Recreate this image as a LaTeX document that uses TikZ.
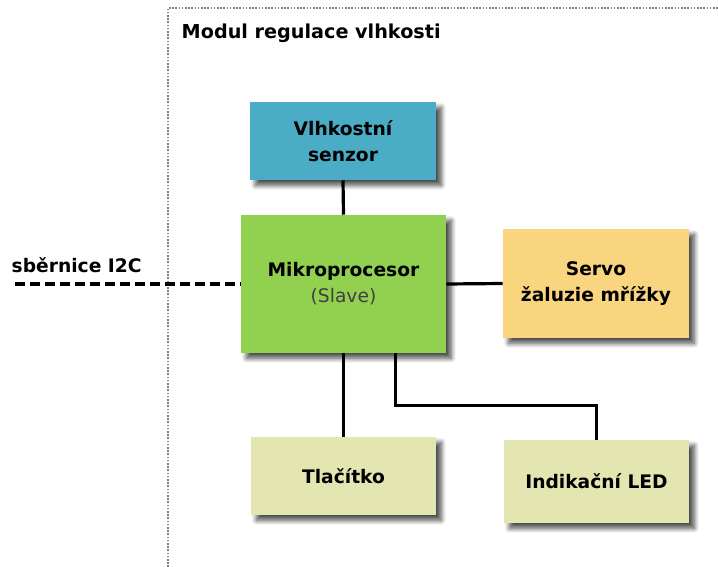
\documentclass[tikz,border=0pt]{standalone}
\usepackage{fontspec}
\setmainfont{DejaVu Sans}
\usetikzlibrary{shadows.blur}

\definecolor{senzormodra}{HTML}{4BACC6}
\definecolor{mcuzelena}{HTML}{92D050}
\definecolor{servooranz}{HTML}{FAD57F}
\definecolor{svetlezluta}{HTML}{E4E6B1}
\definecolor{textseda}{HTML}{404040}

\tikzset{
  blok/.style={rectangle, inner sep=0pt, align=center,
    font=\bfseries\fontsize{14}{19.5}\selectfont,
    blur shadow={shadow xshift=4pt, shadow yshift=-4pt, shadow blur steps=8, shadow blur radius=3.5pt, shadow opacity=70}},
  spoj/.style={line width=2.4pt},
  sbernice/.style={line width=3.2pt, dash pattern=on 7.5pt off 3.75pt},
  ramec/.style={gray, line width=0.8pt, dash pattern=on 1.2pt off 1.2pt},
}

\begin{document}
\begin{tikzpicture}[x=0.75pt, y=-0.75pt]
\useasboundingbox (0,0) rectangle (718,567);

% Ramec modulu
\draw[ramec] (168,567) -- (168,8) -- (718,8);
\node[anchor=west, font=\bfseries\fontsize{14.4}{17}\selectfont] (nazev) at (177,33) {Modul regulace vlhkosti};

% Bloky
\node[blok, fill=senzormodra, minimum width=139.5pt, minimum height=58.5pt] (senzor) at (343,141) {Vlhkostní\\senzor};
\node[blok, fill=mcuzelena, minimum width=153.75pt, minimum height=103.5pt] (mcu) at (343.5,284) {Mikroprocesor\\{\mdseries\color{textseda}(Slave)}};
\node[blok, fill=servooranz, minimum width=139.5pt, minimum height=81.75pt] (servo) at (596,283.5) {Servo\\žaluzie mřížky};
\node[blok, fill=svetlezluta, minimum width=138.75pt, minimum height=58.5pt] (tlacitko) at (343.5,476) {Tlačítko};
\node[blok, fill=svetlezluta, minimum width=138.75pt, minimum height=62.25pt] (led) at (596.5,481.5) {Indikační LED};

% Spoje
\draw[spoj] (senzor.south) -- (mcu.north);
\draw[spoj] (mcu.east) -- (servo.west);
\draw[spoj] (mcu.south) -- (tlacitko.north);
\draw[spoj] ([xshift=39pt]mcu.south) -- ++(0,52) -| (led.north);

% Sbernice
\coordinate (buskonec) at (15,284);
\draw[sbernice] (buskonec) -- (mcu.west);
\node[anchor=west, font=\bfseries\fontsize{14}{17}\selectfont] (busnazev) at (7,265) {sběrnice I2C};

\end{tikzpicture}
\end{document}
